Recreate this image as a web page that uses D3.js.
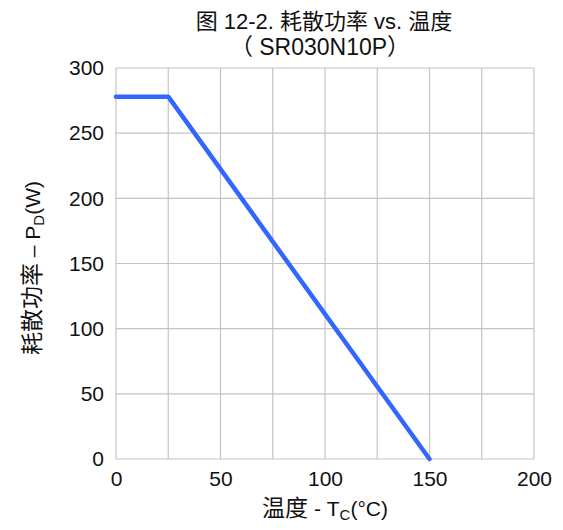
<!DOCTYPE html>
<html>
<head>
<meta charset="utf-8">
<script src="https://cdn.jsdelivr.net/npm/d3@7"></script>
<style>
  body { margin: 0; background: #fff; }
  text { font-family: "Liberation Sans", Arial, "Noto Sans CJK SC", sans-serif; fill: #111; }
</style>
</head>
<body>
<svg id="chart" width="563" height="530"></svg>
<script>
// data
var tempC = [0, 25, 150];
var powerW = [278, 278, 0];
var xTicks = [0, 50, 100, 150, 200];
var xGrid = [0, 25, 50, 75, 100, 125, 150, 175, 200];
var yTicks = [0, 50, 100, 150, 200, 250, 300];

var margin = {top: 68, right: 29, bottom: 71, left: 116};
var width = 563, height = 530;
var innerWidth = width - margin.left - margin.right;
var innerHeight = height - margin.top - margin.bottom;

var xScale = d3.scaleLinear().domain([0, 200]).range([0, innerWidth]);
var yScale = d3.scaleLinear().domain([0, 300]).range([innerHeight, 0]);

var svg = d3.select("#chart");
var g = svg.append("g")
    .attr("transform", "translate(" + margin.left + "," + margin.top + ")");

// grid
g.append("g").selectAll("line")
    .data(xGrid).enter()
    .append("line")
      .attr("x1", function(d){ return xScale(d); })
      .attr("x2", function(d){ return xScale(d); })
      .attr("y1", 0).attr("y2", innerHeight)
      .attr("stroke", "#c4c4c4").attr("stroke-width", 1.2);

g.append("g").selectAll("line")
    .data(yTicks).enter()
    .append("line")
      .attr("y1", function(d){ return yScale(d); })
      .attr("y2", function(d){ return yScale(d); })
      .attr("x1", 0).attr("x2", innerWidth)
      .attr("stroke", "#c4c4c4").attr("stroke-width", 1.2);

// axes (labels only)
var xAxis = d3.axisBottom(xScale).tickValues(xTicks).tickSize(0).tickPadding(12);
var yAxis = d3.axisLeft(yScale).tickValues(yTicks).tickSize(0).tickPadding(12);

var gx = g.append("g")
    .attr("transform", "translate(0," + innerHeight + ")")
    .call(xAxis);
var gy = g.append("g").call(yAxis);
[gx, gy].forEach(function(a){
  a.select(".domain").remove();
  a.selectAll("text")
    .style("font-size", "21px")
    .style("font-family", "'Liberation Sans', Arial, sans-serif")
    .attr("fill", "#111");
});

// power line
var line = d3.line()
    .x(function(d, i){ return xScale(tempC[i]); })
    .y(function(d){ return yScale(d); });

g.append("path")
    .datum(powerW)
    .attr("fill", "none")
    .attr("stroke", "#3366ff")
    .attr("stroke-width", 4.5)
    .attr("stroke-linejoin", "round")
    .attr("stroke-linecap", "round")
    .attr("d", line);

// title
svg.append("text")
    .attr("x", 324).attr("y", 29)
    .attr("text-anchor", "middle")
    .style("font-size", "22px")
    .text("图 12-2. 耗散功率 vs. 温度");
svg.append("text")
    .attr("x", 320).attr("y", 55)
    .attr("text-anchor", "middle")
    .style("font-size", "23px")
    .text("（ SR030N10P）");

// axis titles
var xl = svg.append("text")
    .attr("x", 325).attr("y", 516)
    .attr("text-anchor", "middle")
    .style("font-size", "21px");
xl.append("tspan").style("font-size", "23px").text("温度");
xl.append("tspan").text(" - T");
xl.append("tspan").attr("dy", 4).style("font-size", "15px").text("C");
xl.append("tspan").attr("dy", -4).text("(°C)");

var yl = svg.append("text")
    .attr("transform", "translate(40,268) rotate(-90)")
    .attr("text-anchor", "middle")
    .style("font-size", "21px");
yl.append("tspan").style("font-size", "23px").text("耗散功率");
yl.append("tspan").text(" – P");
yl.append("tspan").attr("dy", 4).style("font-size", "15px").text("D");
yl.append("tspan").attr("dy", -4).text("(W)");
</script>
</body>
</html>
